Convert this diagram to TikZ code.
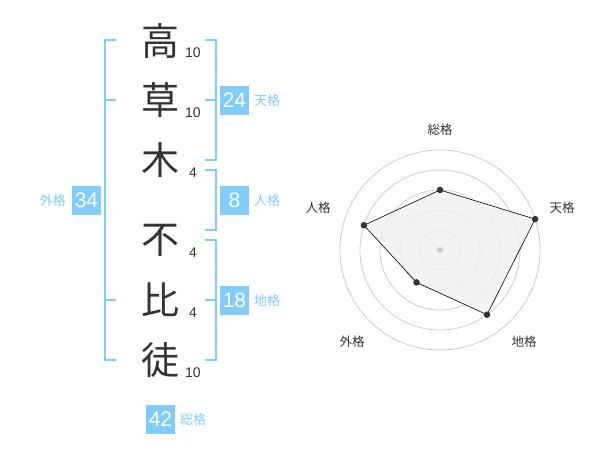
\documentclass[tikz,border=0pt]{standalone}
\usepackage{fontspec}
\usetikzlibrary{calc}
\setmainfont{Liberation Sans}
\newfontfamily\cjk{Noto Sans CJK JP}
\definecolor{kblue}{RGB}{128,204,250}
\definecolor{kdark}{RGB}{51,51,51}
\definecolor{kring}{RGB}{204,204,204}
\definecolor{kfill}{RGB}{240,240,240}
\begin{document}
\begin{tikzpicture}[x=1pt,y=-1pt,
  kanji/.style={font=\cjk\fontsize{38}{38}\selectfont,text=kdark,inner sep=0pt},
  strokes/.style={font=\fontsize{14}{14}\selectfont,text=kdark,inner sep=0pt},
  numbox/.style={fill=kblue,text=white,minimum width=29pt,minimum height=29pt,inner sep=0pt,font=\fontsize{21}{21}\selectfont},
  kaku/.style={font=\cjk\fontsize{13}{13}\selectfont,text=kblue,inner sep=0pt},
  brk/.style={draw=kblue,line width=2pt},
  ring/.style={draw=kring,line width=0.8pt},
  axlab/.style={font=\cjk\fontsize{12.5}{12.5}\selectfont,text=kdark,inner sep=0pt},
  dot/.style={circle,fill=kdark,inner sep=0pt,minimum size=6.5pt}]
\useasboundingbox (0,0) rectangle (600,470);
% characters
\node[kanji] (c1) at (160,41) {高};
\node[kanji] (c2) at (160,100) {草};
\node[kanji] (c3) at (160,160) {木};
\node[kanji] (c4) at (160,240) {不};
\node[kanji] (c5) at (160,300) {比};
\node[kanji] (c6) at (160,360) {徒};
\node[strokes] (s1) at (193,53) {10};
\node[strokes] (s2) at (193,113) {10};
\node[strokes] (s3) at (193,173) {4};
\node[strokes] (s4) at (193,253) {4};
\node[strokes] (s5) at (193,313) {4};
\node[strokes] (s6) at (193,373) {10};
% left bracket (gaikaku)
\draw[brk] (116,40) -- (105,40) -- (105,360) -- (116,360);
\draw[brk] (105,100) -- (116,100);
\draw[brk] (105,300) -- (116,300);
% right brackets
\draw[brk] (205,40) -- (216,40) -- (216,160) -- (205,160);
\draw[brk] (205,100) -- (216,100);
\draw[brk] (205,170) -- (216,170) -- (216,230) -- (205,230);
\draw[brk] (205,240) -- (216,240) -- (216,360) -- (205,360);
\draw[brk] (205,300) -- (216,300);
% boxes
\node[numbox] (b24) at (234.5,100.5) {24};
\node[kaku,anchor=west] (l24) at (254,101) {天格};
\node[numbox] (b8) at (234.5,200.5) {8};
\node[kaku,anchor=west] (l8) at (254,201) {人格};
\node[numbox] (b18) at (234.5,300.5) {18};
\node[kaku,anchor=west] (l18) at (254,301) {地格};
\node[numbox] (b34) at (86.5,200.5) {34};
\node[kaku,anchor=east] (l34) at (66,201) {外格};
\node[numbox] (b42) at (160.5,419) {42};
\node[kaku,anchor=west] (l42) at (180,420) {総格};
% radar chart
\coordinate (o) at (440,250);
\foreach \r in {20,40,60,80,100} \draw[ring] (o) circle[radius=\r];
\coordinate (p1) at ($(o)+(-90:60)$);
\coordinate (p2) at ($(o)+(-18:100)$);
\coordinate (p3) at ($(o)+(54:80)$);
\coordinate (p4) at ($(o)+(126:40)$);
\coordinate (p5) at ($(o)+(198:80)$);
\filldraw[fill=kfill,fill opacity=0.8,draw=black,line width=0.6pt] (p1) -- (p2) -- (p3) -- (p4) -- (p5) -- cycle;
\fill[kring] (o) circle[radius=3];
\foreach \p in {p1,p2,p3,p4,p5} \node[dot] at (\p) {};
\node[axlab] (a1) at (440,130) {総格};
\node[axlab] (a2) at (562,208) {天格};
\node[axlab] (a3) at (524,342) {地格};
\node[axlab] (a4) at (352,342) {外格};
\node[axlab] (a5) at (318,208) {人格};
\end{tikzpicture}
\end{document}
